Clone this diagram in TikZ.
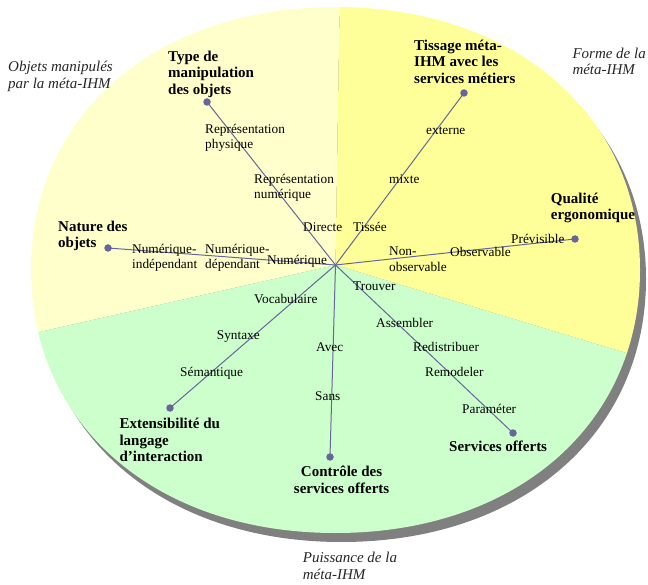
\documentclass[tikz,border=0pt]{standalone}
\usepackage{fontspec}
\setmainfont{Liberation Serif}
\definecolor{paleY}{HTML}{FFFFCC}
\definecolor{yel}{HTML}{FFFF99}
\definecolor{grn}{HTML}{CCFFCC}
\definecolor{spokec}{HTML}{666699}
\definecolor{shadowc}{HTML}{808080}
\begin{document}
\begin{tikzpicture}[x=1pt,y=-1pt,
  lab/.style={font=\fontsize{13.3}{15.7}\selectfont, inner sep=0pt, align=left, anchor=base west},
  ttl/.style={font=\fontsize{15}{16.5}\selectfont\bfseries, inner sep=0pt, align=left, anchor=base west},
  cat/.style={font=\fontsize{15}{16.7}\selectfont\itshape, inner sep=0pt, align=left, anchor=base west, text=black!85},
  dot/.style={circle, fill=spokec, inner sep=0pt, minimum size=7.5pt},
  spk/.style={draw=spokec, line width=1pt}]
\useasboundingbox (0,0) rectangle (648,585);
% shadow
\begin{scope}[shift={(341.5,279)}]
\fill[shadowc] (304.5,0) .. controls (304.5,-155.2) and (179.7,-263) .. (0,-263) .. controls (-179.7,-263) and (-304.5,-155.2) .. (-304.5,0) .. controls (-304.5,155.2) and (-179.7,263) .. (0,263) .. controls (179.7,263) and (304.5,155.2) .. (304.5,0) -- cycle;
\end{scope}
% sectors
\coordinate (H) at (335.5,265);
\begin{scope}
\clip[shift={(335.5,270)}] (304.5,0) .. controls (304.5,-155.2) and (179.7,-263) .. (0,-263) .. controls (-179.7,-263) and (-304.5,-155.2) .. (-304.5,0) .. controls (-304.5,155.2) and (-179.7,263) .. (0,263) .. controls (179.7,263) and (304.5,155.2) .. (304.5,0) -- cycle;
\fill[paleY] (H) -- (340,-20) -- (-100,-20) -- (-100,363.5) -- cycle;
\fill[yel] (H) -- (340,-20) -- (700,-20) -- (700,375.3) -- cycle;
\fill[grn] (H) -- (700,375.3) -- (700,700) -- (-100,700) -- (-100,363.5) -- cycle;
\end{scope}
% spokes
\node[dot] (dType) at (207,102) {};
\node[dot] (dNat) at (108,248) {};
\node[dot] (dTis) at (464,93) {};
\node[dot] (dQual) at (575,239) {};
\node[dot] (dServ) at (513,433) {};
\node[dot] (dCtrl) at (330,457) {};
\node[dot] (dExt) at (170,408) {};
\foreach \d in {dType,dNat,dTis,dQual,dServ,dCtrl,dExt}
  \draw[spk] (H) -- (\d.center);
% value labels (multi-line nodes: anchor on last baseline)
\node[lab] (rp) at (205,149) {Représentation\\physique};
\node[lab] (rn) at (254,199) {Représentation\\numérique};
\node[lab] (dir) at (303,232) {Directe};
\node[lab] (tis) at (353,232) {Tissée};
\node[lab] (ni) at (132,269) {Numérique-\\indépendant};
\node[lab] (nd) at (205,269) {Numérique-\\dépendant};
\node[lab] (nu) at (267,265) {Numérique};
\node[lab] (ext) at (426,135) {externe};
\node[lab] (mix) at (389,184) {mixte};
\node[lab] (nob) at (389,271.7) {Non-\\observable};
\node[lab] (obs) at (450,256.7) {Observable};
\node[lab] (pre) at (511,244) {Prévisible};
\node[lab] (tro) at (353,290.7) {Trouver};
\node[lab] (ass) at (376,327.7) {Assembler};
\node[lab] (red) at (413,351.7) {Redistribuer};
\node[lab] (rem) at (425,376.7) {Remodeler};
\node[lab] (par) at (462,413.3) {Paraméter};
\node[lab] (ave) at (316,351.7) {Avec};
\node[lab] (san) at (315,400.7) {Sans};
\node[lab] (voc) at (254,303.3) {Vocabulaire};
\node[lab] (syn) at (216.7,340) {Syntaxe};
\node[lab] (sem) at (180,376.7) {Sémantique};
% dimension titles
\node[ttl] (tType) at (168,94.5) {Type de\\manipulation\\des objets};
\node[ttl] (tNat) at (58,248) {Nature des\\objets};
\node[ttl] (tTis) at (414,83.3) {Tissage méta-\\IHM avec les\\services métiers};
\node[ttl] (tQual) at (550.7,220) {Qualité\\ergonomique};
\node[ttl] (tServ) at (449,451.7) {Services offerts};
\node[ttl, align=center, anchor=base] (tCtrl) at (341.6,493.3) {Contrôle des\\services offerts};
\node[ttl] (tExt) at (119.3,461.7) {Extensibilité du\\langage\\d’interaction};
% categories
\node[cat] (cObj) at (8,88.3) {Objets manipulés\\par la méta-IHM};
\node[cat] (cForme) at (572.3,75) {Forme de la\\méta-IHM};
\node[cat] (cPuis) at (302.7,579) {Puissance de la\\méta-IHM};
\end{tikzpicture}
\end{document}
